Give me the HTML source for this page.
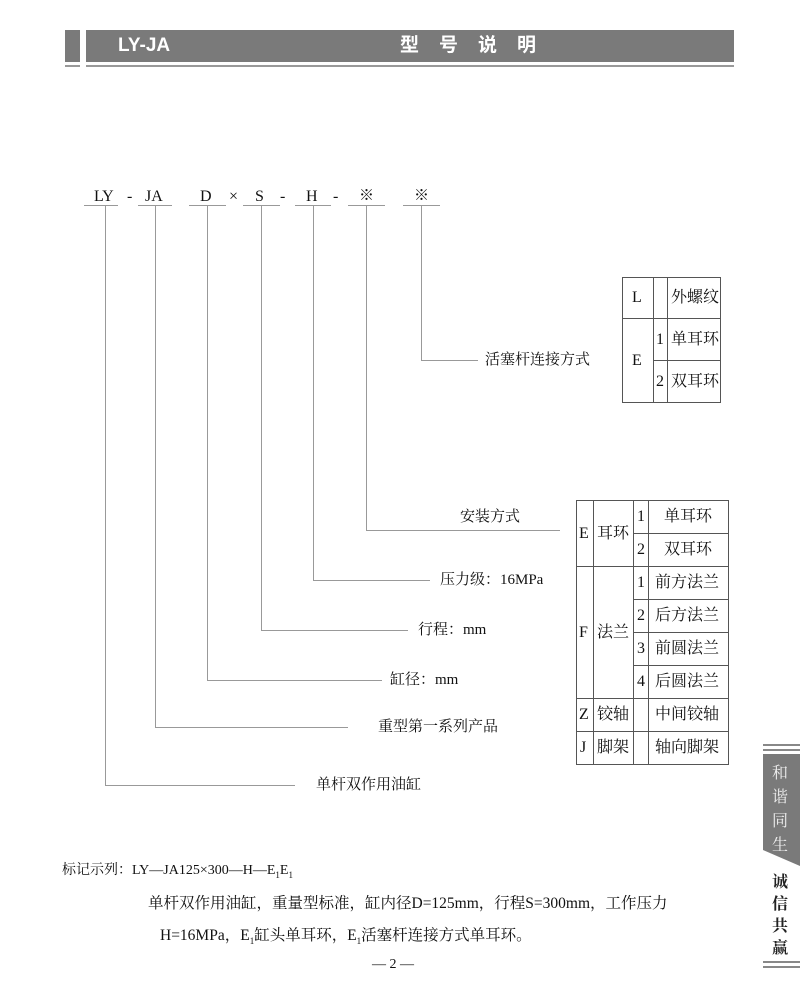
<!DOCTYPE html>
<html><head><meta charset="utf-8"><style>
body{margin:0;background:#fff;}
#c{position:relative;width:800px;height:981px;overflow:hidden;font-family:"Liberation Serif","Noto Serif CJK SC",serif;color:#111;}
.t{position:absolute;white-space:nowrap;font-size:15px;line-height:1;}
.tb{font-size:16px;}
svg{position:absolute;left:0;top:0;}
</style></head><body><div id="c">
<svg width="800" height="981">
<rect x="65" y="30" width="15" height="32" fill="#7a7a7a"/>
<rect x="86" y="30" width="648" height="32" fill="#7a7a7a"/>
<rect x="65" y="65" width="15" height="2" fill="#999"/>
<rect x="86" y="65" width="648" height="2" fill="#999"/>
<g stroke="#999" stroke-width="1" fill="none">
<line x1="84" y1="205.5" x2="118" y2="205.5"/>
<line x1="138" y1="205.5" x2="172" y2="205.5"/>
<line x1="189" y1="205.5" x2="226" y2="205.5"/>
<line x1="243" y1="205.5" x2="280" y2="205.5"/>
<line x1="295" y1="205.5" x2="331" y2="205.5"/>
<line x1="348" y1="205.5" x2="385" y2="205.5"/>
<line x1="403" y1="205.5" x2="440" y2="205.5"/>
<polyline points="421.5,206 421.5,360.5 478,360.5"/>
<polyline points="366.5,206 366.5,530.5 560,530.5"/>
<polyline points="313.5,206 313.5,580.5 430,580.5"/>
<polyline points="261.5,206 261.5,630.5 408,630.5"/>
<polyline points="207.5,206 207.5,680.5 382,680.5"/>
<polyline points="155.5,206 155.5,727.5 348,727.5"/>
<polyline points="105.5,206 105.5,785.5 295,785.5"/>
</g>
<g stroke="#555" stroke-width="1" fill="none">
<rect x="622.5" y="277.5" width="98" height="125"/>
<line x1="653.5" y1="277" x2="653.5" y2="402"/>
<line x1="667.5" y1="277" x2="667.5" y2="402"/>
<line x1="622" y1="318.5" x2="720" y2="318.5"/>
<line x1="653" y1="360.5" x2="720" y2="360.5"/>
<rect x="576.5" y="500.5" width="152" height="264"/>
<line x1="593.5" y1="500" x2="593.5" y2="764"/>
<line x1="633.5" y1="500" x2="633.5" y2="764"/>
<line x1="648.5" y1="500" x2="648.5" y2="764"/>
<line x1="633" y1="533.5" x2="728" y2="533.5"/>
<line x1="576" y1="566.5" x2="728" y2="566.5"/>
<line x1="633" y1="599.5" x2="728" y2="599.5"/>
<line x1="633" y1="632.5" x2="728" y2="632.5"/>
<line x1="633" y1="665.5" x2="728" y2="665.5"/>
<line x1="576" y1="698.5" x2="728" y2="698.5"/>
<line x1="576" y1="731.5" x2="728" y2="731.5"/>
</g>
<rect x="763" y="744" width="37" height="2" fill="#888"/>
<rect x="763" y="749" width="37" height="2" fill="#888"/>
<polygon points="763,754 800,754 800,866 763,850" fill="#7a7a7a"/>
<rect x="763" y="961" width="37" height="2" fill="#888"/>
<rect x="763" y="966" width="37" height="2" fill="#888"/>
</svg>
<div class="t" style="left:118px;top:36px;color:#fff;font-family:'Liberation Sans',sans-serif;font-weight:bold;font-size:19px;">LY-JA</div>
<div class="t" style="left:400px;top:36px;color:#fff;font-family:'Liberation Sans','Noto Sans CJK SC',sans-serif;font-weight:bold;font-size:19px;letter-spacing:20px;">型号说明</div>

<div class="t" style="left:94px;top:189px;font-size:16px;">LY</div>
<div class="t" style="left:127px;top:189px;font-size:16px;">-</div>
<div class="t" style="left:145px;top:189px;font-size:16px;">JA</div>
<div class="t" style="left:200px;top:189px;font-size:16px;">D</div>
<div class="t" style="left:229px;top:189px;font-size:16px;">×</div>
<div class="t" style="left:255px;top:189px;font-size:16px;">S</div>
<div class="t" style="left:280px;top:189px;font-size:16px;">-</div>
<div class="t" style="left:306px;top:189px;font-size:16px;">H</div>
<div class="t" style="left:333px;top:189px;font-size:16px;">-</div>
<div class="t" style="left:359px;top:189px;font-size:15px;">※</div>
<div class="t" style="left:414px;top:189px;font-size:15px;">※</div>

<div class="t" style="left:485px;top:353px;">活塞杆连接方式</div>
<div class="t" style="left:460px;top:510px;">安装方式</div>
<div class="t" style="left:440px;top:573px;">压力级：16MPa</div>
<div class="t" style="left:418px;top:623px;">行程：mm</div>
<div class="t" style="left:390px;top:673px;">缸径：mm</div>
<div class="t" style="left:378px;top:720px;">重型第一系列产品</div>
<div class="t" style="left:316px;top:778px;">单杆双作用油缸</div>

<div class="t tb" style="left:632px;top:290px;">L</div>
<div class="t tb" style="left:671px;top:290px;">外螺纹</div>
<div class="t tb" style="left:632px;top:353px;">E</div>
<div class="t tb" style="left:656px;top:332px;">1</div>
<div class="t tb" style="left:671px;top:332px;">单耳环</div>
<div class="t tb" style="left:656px;top:374px;">2</div>
<div class="t tb" style="left:671px;top:374px;">双耳环</div>

<div class="t tb" style="left:579px;top:526px;">E</div>
<div class="t tb" style="left:597px;top:526px;">耳环</div>
<div class="t tb" style="left:637px;top:509px;">1</div>
<div class="t tb" style="left:664px;top:509px;">单耳环</div>
<div class="t tb" style="left:637px;top:542px;">2</div>
<div class="t tb" style="left:664px;top:542px;">双耳环</div>
<div class="t tb" style="left:579px;top:625px;">F</div>
<div class="t tb" style="left:597px;top:625px;">法兰</div>
<div class="t tb" style="left:637px;top:575px;">1</div>
<div class="t tb" style="left:655px;top:575px;">前方法兰</div>
<div class="t tb" style="left:637px;top:608px;">2</div>
<div class="t tb" style="left:655px;top:608px;">后方法兰</div>
<div class="t tb" style="left:637px;top:641px;">3</div>
<div class="t tb" style="left:655px;top:641px;">前圆法兰</div>
<div class="t tb" style="left:637px;top:674px;">4</div>
<div class="t tb" style="left:655px;top:674px;">后圆法兰</div>
<div class="t tb" style="left:579px;top:707px;">Z</div>
<div class="t tb" style="left:597px;top:707px;">铰轴</div>
<div class="t tb" style="left:655px;top:707px;">中间铰轴</div>
<div class="t tb" style="left:580px;top:740px;">J</div>
<div class="t tb" style="left:597px;top:740px;">脚架</div>
<div class="t tb" style="left:655px;top:740px;">轴向脚架</div>

<div class="t" style="left:772px;top:762px;color:#eee;font-size:16px;line-height:24px;white-space:normal;width:18px;">和谐同生</div>
<div class="t" style="left:772px;top:872px;color:#222;font-size:16px;line-height:22px;white-space:normal;width:18px;font-weight:bold;">诚信共赢</div>

<div class="t" style="left:62px;top:864px;font-size:14px;">标记示列：LY—JA125×300—H—E<sub style="font-size:9px">1</sub>E<sub style="font-size:9px">1</sub></div>
<div class="t" style="left:148px;top:896px;font-size:15.5px;">单杆双作用油缸，重量型标准，缸内径D=125mm，行程S=300mm，工作压力</div>
<div class="t" style="left:160px;top:928px;font-size:15.5px;">H=16MPa，E<sub style="font-size:9px">1</sub>缸头单耳环，E<sub style="font-size:9px">1</sub>活塞杆连接方式单耳环。</div>
<div class="t" style="left:372px;top:958px;font-size:14px;">— 2 —</div>
</div></body></html>
